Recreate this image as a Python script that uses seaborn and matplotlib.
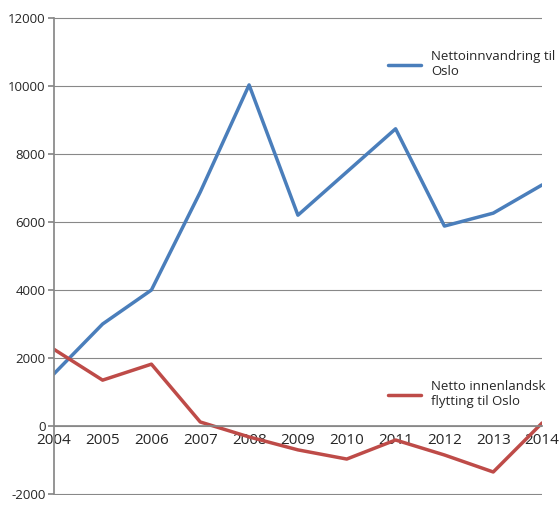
import matplotlib
matplotlib.use("Agg")
import matplotlib.pyplot as plt
import seaborn as sns
import pandas as pd

years = list(range(2004, 2015))
netto_innv = [1530, 3000, 4000, 6880, 10030, 6200, 7470, 8740, 5880, 6260, 7090]
netto_innl = [2260, 1350, 1820, 120, -320, -700, -970, -410, -850, -1350, 90]
yticks = list(range(-2000, 12001, 2000))

sns.set_theme(style="white")
plt.rcParams['font.family'] = ['Open Sans', 'DejaVu Sans']

df = pd.DataFrame({"year": years, "a": netto_innv, "b": netto_innl})
fig = plt.figure(figsize=(5.6, 5.12), dpi=100)
ax = fig.add_axes([0.096, 0.033, 0.872, 0.934])
sns.lineplot(data=df, x="year", y="a", ax=ax, color="#4A7EBB", lw=2.5)
sns.lineplot(data=df, x="year", y="b", ax=ax, color="#BE4B48", lw=2.5)
lines = ax.get_lines()
ax.set_xlim(2004, 2014)
ax.set_ylim(-2030, 12030)
ax.set_yticks(yticks)
ax.set_yticklabels([str(v) for v in yticks], fontsize=9.5)
ax.set_xticks(years)
ax.set_xticklabels([str(y) for y in years], fontsize=9.5)
ax.yaxis.grid(True, color="#888888", lw=0.8)
ax.set_axisbelow(True)
ax.spines['bottom'].set_position(('data', 0))
ax.spines['bottom'].set_color("#888888")
ax.spines['left'].set_color("#888888")
ax.spines['left'].set_bounds(-2000, 12000)
ax.spines['top'].set_visible(False)
ax.spines['right'].set_visible(False)
ax.tick_params(axis='x', length=4, color="#888888", direction='out', pad=1)
ax.tick_params(axis='y', length=4, color="#888888", left=True, pad=2)
ax.set_xlabel(""); ax.set_ylabel("")

leg1 = ax.legend([lines[0]], ["Nettoinnvandring til\nOslo"], loc="upper left",
                 bbox_to_anchor=(0.66, 0.955), frameon=False, fontsize=9.5,
                 handlelength=2.5, labelspacing=0.2)
ax.add_artist(leg1)
ax.legend([lines[1]], ["Netto innenlandsk\nflytting til Oslo"], loc="upper left",
          bbox_to_anchor=(0.66, 0.265), frameon=False, fontsize=9.5,
          handlelength=2.5)
fig.savefig("out.png", dpi=100)
